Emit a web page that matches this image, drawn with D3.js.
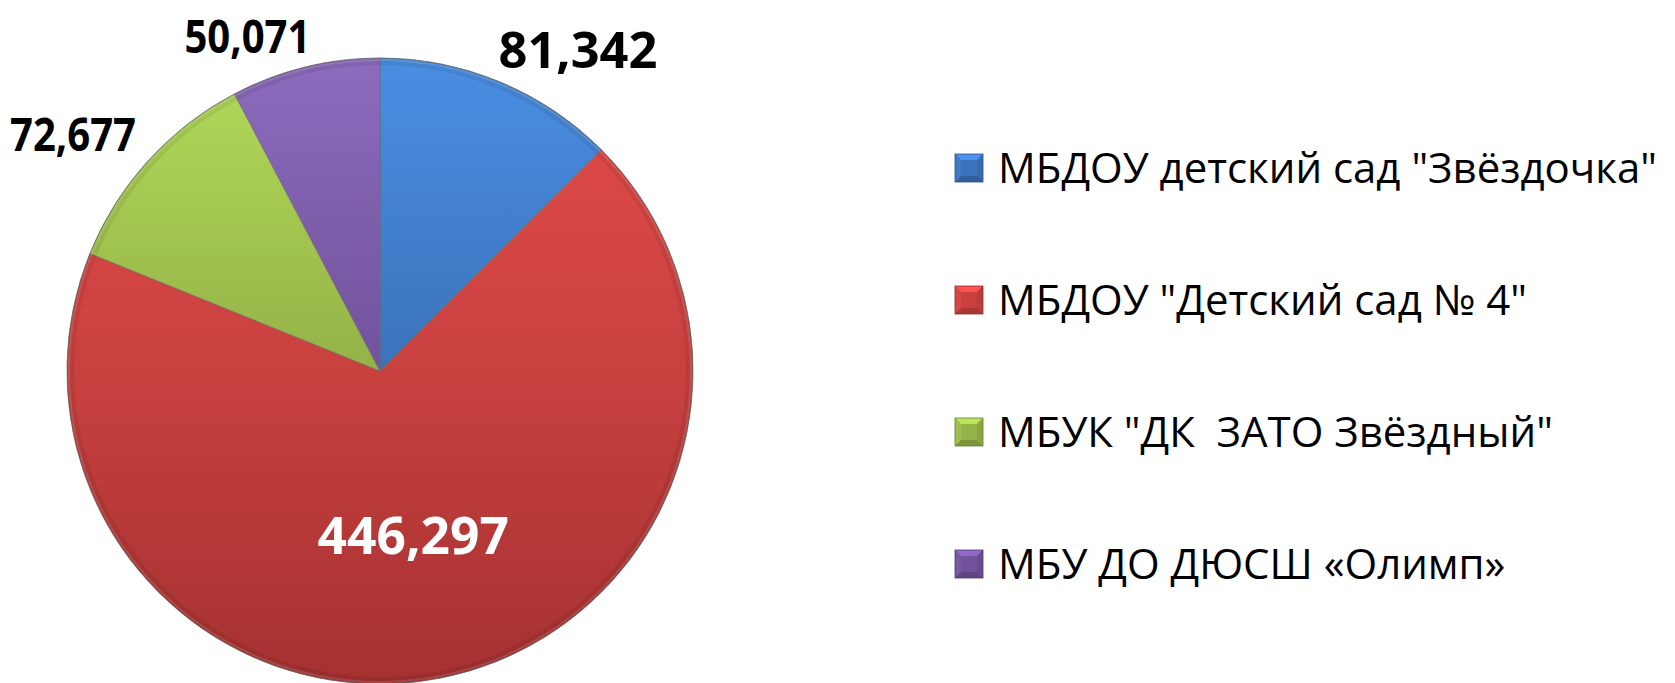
<!DOCTYPE html>
<html>
<head>
<meta charset="utf-8">
<script src="https://cdn.jsdelivr.net/npm/d3@7"></script>
<style>
  body { margin: 0; background: #fff; }
  svg { display: block; }
  .legend text { white-space: pre; }
</style>
</head>
<body>
<div class="chartContainer"></div>
<script>
var categories = ["МБДОУ детский сад \"Звёздочка\"", "МБДОУ \"Детский сад № 4\"",
	"МБУК \"ДК  ЗАТО Звёздный\"", "МБУ ДО ДЮСШ «Олимп»"];
var values = [81.342, 446.297, 72.677, 50.071];
var colorsTop = ["#4a8ee2", "#e44c4a", "#b3db5a", "#8d6bbd"];
var colorsMid = ["#3b72bb", "#c8413f", "#94b247", "#71529b"];
var colorsBottom = ["#2f5c99", "#a43131", "#7a943a", "#5c4280"];
var labelFontSize = [51, 52, 46, 46];

var width = 1675,
		height = 683;
var cx = 380, cy = 371,
		r = 313;

var ru = d3.formatLocale({ decimal: ",", thousands: " ", grouping: [3], currency: ["", ""] });
var fmt = ru.format(".3f");

var svg = d3.select(".chartContainer").append("svg")
	.attr("width", width).attr("height", height);

var defs = svg.append("defs");

// vertical gradients spanning the whole pie
values.forEach(function(v, i) {
	var grad = defs.append("linearGradient").attr("id", "grad" + i)
		.attr("gradientUnits", "userSpaceOnUse")
		.attr("x1", 0).attr("y1", -r).attr("x2", 0).attr("y2", r);
	grad.append("stop").attr("offset", 0).attr("stop-color", colorsTop[i]);
	grad.append("stop").attr("offset", 0.5).attr("stop-color", colorsMid[i]);
	grad.append("stop").attr("offset", 1).attr("stop-color", colorsBottom[i]);
});

var total = d3.sum(values);
var pie = d3.pie().sort(null).value(function(d) { return d; });
var arcs = pie(values);

var arc = d3.arc().innerRadius(0).outerRadius(r);
var rim = d3.arc().innerRadius(r - 7).outerRadius(r);
var rimLight = d3.arc().innerRadius(r - 3).outerRadius(r - 1);

var g = svg.append("g")
	.attr("transform", "translate(" + cx + "," + cy + ")");

g.selectAll("path.slice").data(arcs).enter().append("path")
	.attr("class", "slice")
	.attr("d", arc)
	.attr("fill", function(d, i) { return "url(#grad" + i + ")"; })
	.attr("stroke", "#6d6d6d")
	.attr("stroke-opacity", 0.6)
	.attr("stroke-width", 1);

// bevel: darker outer rim, thin highlight inside it
g.selectAll("path.rim").data(arcs).enter().append("path")
	.attr("class", "rim")
	.attr("d", rim)
	.attr("fill", "#000")
	.attr("fill-opacity", 0.07);

g.selectAll("path.rimlight").data(arcs).enter().append("path")
	.attr("class", "rimlight")
	.attr("d", rimLight)
	.attr("fill", "#fff")
	.attr("fill-opacity", 0.12);

g.append("circle").attr("r", r)
	.attr("fill", "none")
	.attr("stroke", "#555")
	.attr("stroke-opacity", 0.35)
	.attr("stroke-width", 1);

//  Data labels: big slice inside, the rest just outside the rim
var labelR = 328;
var labels = svg.append("g").attr("class", "labels");

arcs.forEach(function(d, i) {
	var a = (d.startAngle + d.endAngle) / 2;
	var fs = labelFontSize[i];
	var inside = d.value / total > 0.3;
	var t = labels.append("text")
		.attr("font-family", "'Open Sans', 'Noto Sans', sans-serif")
		.attr("font-weight", 700)
		.attr("font-size", fs)
		.attr("fill", inside ? "#fff" : "#000")
		.text(fmt(d.value));
	var x, y, anchor;
	if (inside) {
		var c = arc.centroid(d);
		x = cx + c[0] * 1.07;
		y = cy + c[1] * 1.07 + fs * 0.36;
		anchor = "middle";
	} else {
		var s = Math.sin(a) > 0 ? 1 : -1;
		// labels near the top get pulled a bit toward the middle (like excel's best fit)
		x = cx + labelR * Math.sin(a) - s * 10 * Math.cos(2 * a);
		y = cy - labelR * Math.cos(a);
		anchor = s > 0 ? "start" : "end";
		if (y > cy) y += fs * 0.72;
	}
	t.attr("x", x).attr("y", y).attr("text-anchor", anchor);
	var L = t.node().getComputedTextLength();
	t.attr("textLength", L * (fs > 48 ? 0.99 : 0.87)).attr("lengthAdjust", "spacingAndGlyphs");
});

//  Legend
var legendX = 955, legendY = 154, legendStep = 132, box = 28;

var legend = svg.append("g").attr("class", "legend")
	.selectAll("g").data(categories).enter().append("g")
	.attr("transform", function(d, i) {
		return "translate(" + legendX + "," + (legendY + i * legendStep) + ")"; });

legend.each(function(d, i) {
	var el = d3.select(this);
	var base = d3.color(colorsMid[i]);
	var b = 6;
	el.append("rect").attr("width", box).attr("height", box).attr("fill", base.formatHex());
	// bevel facets
	el.append("path").attr("d", "M0,0H" + box + "L" + (box - b) + "," + b + "H" + b + "Z")
		.attr("fill", base.brighter(0.7).formatHex());
	el.append("path").attr("d", "M0," + box + "H" + box + "L" + (box - b) + "," + (box - b) + "H" + b + "Z")
		.attr("fill", base.darker(0.5).formatHex());
	el.append("path").attr("d", "M0,0L" + b + "," + b + "V" + (box - b) + "L0," + box + "Z")
		.attr("fill", base.brighter(0.2).formatHex());
	el.append("path").attr("d", "M" + box + ",0L" + (box - b) + "," + b + "V" + (box - b) + "L" + box + "," + box + "Z")
		.attr("fill", base.darker(0.2).formatHex());
	el.append("rect").attr("width", box).attr("height", box)
		.attr("fill", "none").attr("stroke", base.darker(1).formatHex()).attr("stroke-width", 0.8);
});

var legendText = legend.append("text")
	.attr("x", 43)
	.attr("y", 29)
	.attr("xml:space", "preserve")
	.attr("font-family", "'Open Sans', 'Noto Sans', sans-serif")
	.attr("font-size", 42)
	.attr("fill", "#000")
	.text(function(d) { return d; });

// squeeze to a Calibri-like width, same factor for every row
var w0 = legendText.nodes()[0].getComputedTextLength();
var k = 659 / w0;
legendText.each(function() {
	var L = this.getComputedTextLength();
	d3.select(this).attr("textLength", L * k).attr("lengthAdjust", "spacingAndGlyphs");
});
</script>
</body>
</html>
